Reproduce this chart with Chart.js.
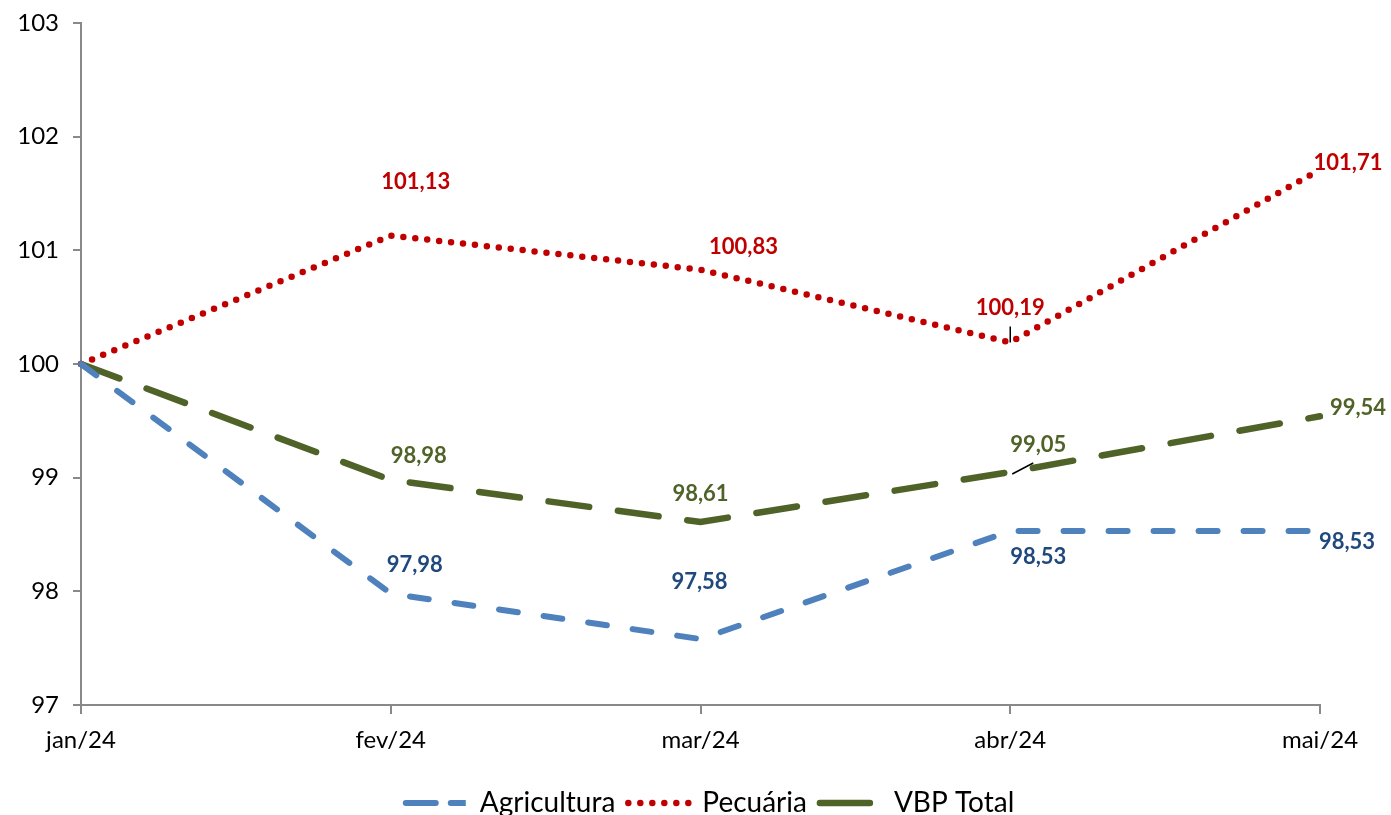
<!DOCTYPE html>
<html>
<head>
<meta charset="utf-8">
<script src="https://cdn.jsdelivr.net/npm/chart.js@4/dist/chart.umd.min.js"></script>
<style>
  html, body { margin: 0; padding: 0; background: #fff; }
  #wrap { width: 1391px; height: 815px; }
</style>
</head>
<body>
<div id="wrap"><canvas id="chart" width="1391" height="815"></canvas></div>
<script>
const months = ['jan/24', 'fev/24', 'mar/24', 'abr/24', 'mai/24'];
const agricultura = [100, 97.98, 97.58, 98.53, 98.53];
const pecuaria = [100, 101.13, 100.83, 100.19, 101.71];
const vbpTotal = [100, 98.98, 98.61, 99.05, 99.54];
const yTicks = [97, 98, 99, 100, 101, 102, 103];

const font = 'Lato, "Open Sans", sans-serif';

// label offsets from the point (dx, dy), first point has no label
const labelOffsets = [
  [null, [24, -29], [-1, -57], [28, 26], [27, 11]],
  [null, [25, -54], [43, -23], [0, -34], [28, -7]],
  [null, [28, -24], [0, -28], [28, -27], [38, -8]]
];
const leaders = { '1-3': [[0, -16], [0, 0]], '2-3': [[2, 2], [23, -9]] };

const labelPlugin = {
  id: 'pointLabels',
  afterDatasetsDraw(chart) {
    const ctx = chart.ctx;
    ctx.save();
    ctx.font = 'bold 22px ' + font;
    ctx.textAlign = 'center';
    ctx.textBaseline = 'middle';
    chart.data.datasets.forEach((ds, di) => {
      const meta = chart.getDatasetMeta(di);
      meta.data.forEach((pt, i) => {
        const off = labelOffsets[di][i];
        if (!off) return;
        ctx.fillStyle = ds.labelColor;
        ctx.fillText(ds.data[i].toFixed(2).replace('.', ','), pt.x + off[0], pt.y + off[1]);
        const ld = leaders[di + '-' + i];
        if (ld) {
          ctx.strokeStyle = '#000';
          ctx.lineWidth = 1.5;
          ctx.setLineDash([]);
          ctx.beginPath();
          ctx.moveTo(pt.x + ld[0][0], pt.y + ld[0][1]);
          ctx.lineTo(pt.x + ld[1][0], pt.y + ld[1][1]);
          ctx.stroke();
        }
      });
    });
    ctx.restore();
  }
};

// nudge the legend right and down, like the original
const legendShift = {
  id: 'legendShift',
  afterLayout(chart) {
    const lg = chart.legend;
    lg.left += 50; lg.right += 50;
    lg.top += 12; lg.bottom += 12;
  }
};

new Chart(document.getElementById('chart'), {
  type: 'line',
  data: {
    labels: months,
    datasets: [
      { label: 'Agricultura', data: agricultura, borderColor: '#4F81BD', backgroundColor: '#4F81BD', borderWidth: 6, borderDash: [19, 26], borderCapStyle: 'round', labelColor: '#1F497D' },
      { label: 'Pecuária', data: pecuaria, borderColor: '#C00000', backgroundColor: '#C00000', borderWidth: 6.5, borderDash: [0, 12], borderCapStyle: 'round', labelColor: '#C00000' },
      { label: 'VBP Total', data: vbpTotal, borderColor: '#4F6228', backgroundColor: '#4F6228', borderWidth: 6.5, borderDash: [41, 29], borderCapStyle: 'round', labelColor: '#4F6228' }
    ]
  },
  options: {
    responsive: false,
    animation: false,
    layout: { padding: { left: 0, right: 71, top: 23, bottom: 0 } },
    elements: { point: { radius: 0 }, line: { tension: 0 } },
    plugins: {
      tooltip: { enabled: false },
      legend: {
        position: 'bottom',
        labels: { boxWidth: 60, boxHeight: 0, padding: 13, color: '#000', font: { family: font, size: 28 } }
      }
    },
    scales: {
      x: {
        offset: false,
        grid: { display: true, drawOnChartArea: false, drawTicks: true, tickLength: 9, color: '#898989', lineWidth: 2 },
        border: { color: '#898989', width: 2 },
        ticks: { color: '#000', font: { family: font, size: 24 }, padding: 12, maxRotation: 0 },
        afterFit: s => { s.height = 59; }
      },
      y: {
        min: 97, max: 103,
        afterBuildTicks: s => { s.ticks = yTicks.map(v => ({ value: v })); },
        grid: { display: true, drawOnChartArea: false, drawTicks: true, tickLength: 8, color: '#898989', lineWidth: 2 },
        border: { color: '#898989', width: 2 },
        ticks: { color: '#000', font: { family: font, size: 24 }, padding: 14 },
        afterFit: s => { s.width = 81; s.paddingTop = 0; s.paddingBottom = 0; }
      }
    }
  },
  plugins: [labelPlugin, legendShift]
});
</script>
</body>
</html>
